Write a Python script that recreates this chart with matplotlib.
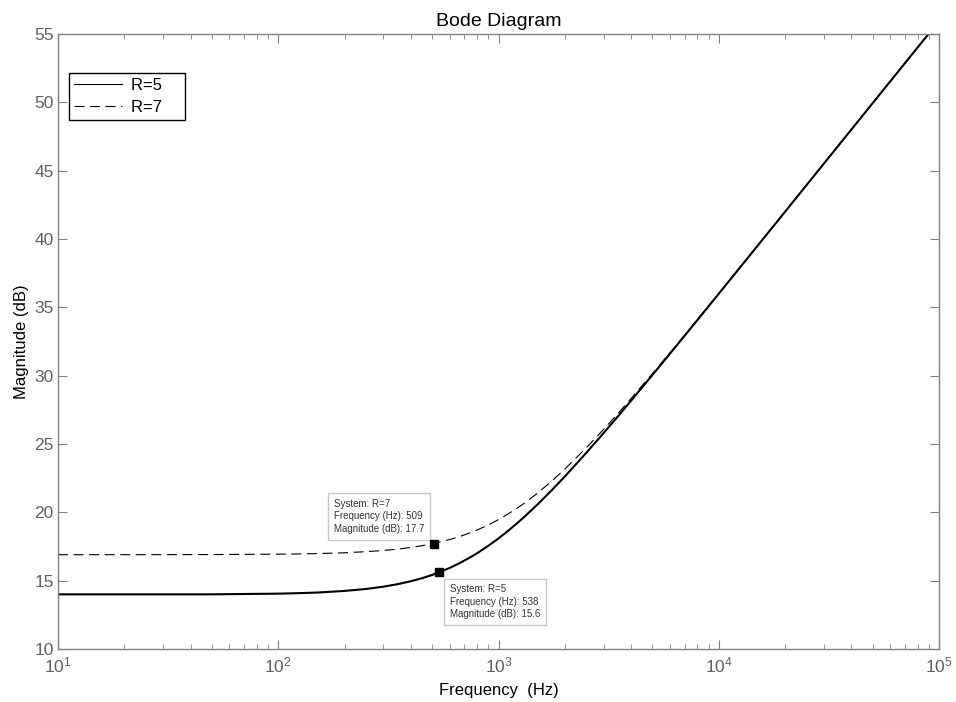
import matplotlib
matplotlib.use("Agg")
import matplotlib.pyplot as plt
from matplotlib.ticker import LogLocator, MultipleLocator, NullFormatter

# --- data ---------------------------------------------------
freq = [10, 20, 50, 100, 120, 150, 200, 250, 300, 350, 400, 450, 500, 550, 600,
        650, 700, 750, 800, 900, 1000, 1100, 1200, 1300, 1500, 1750, 2000, 2500,
        3000, 3500, 4000, 5000, 6000, 7000, 8000, 10000, 15000, 20000, 30000,
        50000, 89000]
mag_r5 = [14.00, 14.00, 14.00, 14.05, 14.08, 14.13, 14.25, 14.39, 14.56, 14.75,
          14.96, 15.18, 15.42, 15.68, 15.93, 16.20, 16.47, 16.74, 17.01, 17.56,
          18.09, 18.62, 19.13, 19.62, 20.56, 21.64, 22.62, 24.34, 25.80, 27.06,
          28.17, 30.05, 31.60, 32.92, 34.07, 35.99, 39.50, 41.99, 45.51, 49.94,
          54.94]
mag_r7 = [16.90, 16.90, 16.91, 16.94, 16.95, 16.98, 17.04, 17.12, 17.21, 17.31,
          17.43, 17.56, 17.70, 17.85, 18.01, 18.17, 18.35, 18.53, 18.71, 19.08,
          19.47, 19.86, 20.25, 20.63, 21.39, 22.30, 23.16, 24.71, 26.07, 27.26,
          28.33, 30.15, 31.67, 32.97, 34.11, 36.02, 39.51, 42.00, 45.51, 49.95,
          54.94]

# datatips
tip_r7 = (509, 17.7)
tip_r5 = (538, 15.6)

plt.rcParams["font.family"] = ["Liberation Sans", "DejaVu Sans"]
plt.rcParams["mathtext.default"] = "regular"

grey = "#808080"
tick_col = "#606060"

fig = plt.figure(figsize=(9.56, 7.02), dpi=100)
ax = fig.add_axes([0.0607, 0.0755, 0.9215, 0.8761])

ax.plot(freq, mag_r5, color="black", linewidth=1.5, label="R=5    ")
ax.plot(freq, mag_r7, color="black", linewidth=0.8, dashes=(9, 5), label="R=7    ")

ax.set_xscale("log")
ax.set_xlim(10, 1e5)
ax.set_ylim(10, 55)
ax.yaxis.set_major_locator(MultipleLocator(5))
ax.xaxis.set_major_locator(LogLocator(base=10, numticks=10))
ax.xaxis.set_minor_locator(LogLocator(base=10, subs=range(2, 10), numticks=20))
ax.xaxis.set_minor_formatter(NullFormatter())

for s in ax.spines.values():
    s.set_color(grey)
    s.set_linewidth(1.0)
ax.tick_params(which="both", direction="in", top=True, right=True,
               color=grey, labelcolor=tick_col, labelsize=12.5)
ax.tick_params(which="major", length=6.5, pad=3)
ax.tick_params(axis="x", which="major", pad=5)
ax.tick_params(which="minor", length=3.5)

ax.set_title("Bode Diagram", fontsize=14, pad=6)
ax.set_xlabel("Frequency  (Hz)", fontsize=12, labelpad=5)
ax.set_ylabel("Magnitude (dB)", fontsize=12, labelpad=4)

leg = ax.legend(loc="upper left", bbox_to_anchor=(0.0125, 0.937), fontsize=12,
                fancybox=False, framealpha=1, edgecolor="black",
                handlelength=2.9, handletextpad=0.5, borderpad=0.3,
                labelspacing=0.45, borderaxespad=0)
leg.get_frame().set_linewidth(1.0)
for h in leg.get_lines():
    h.set_linewidth(0.8)

# datatip markers and boxes
ax.plot(*tip_r7, marker="s", color="black", markersize=6, zorder=5)
ax.plot(*tip_r5, marker="s", color="black", markersize=6, zorder=5)

box = dict(boxstyle="square,pad=0.6", facecolor="white", edgecolor="#c8c8c8",
           linewidth=1.0)
ax.annotate(f"System: R=7\nFrequency (Hz): {tip_r7[0]}\nMagnitude (dB): {tip_r7[1]}",
            xy=tip_r7, xytext=(-10, 10), textcoords="offset pixels",
            ha="right", va="bottom", multialignment="left", fontsize=7,
            color="#333333", linespacing=1.3, bbox=box)
ax.annotate(f"System: R=5\nFrequency (Hz): {tip_r5[0]}\nMagnitude (dB): {tip_r5[1]}",
            xy=tip_r5, xytext=(11, -12), textcoords="offset pixels",
            ha="left", va="top", multialignment="left", fontsize=7,
            color="#333333", linespacing=1.3, bbox=box)

plt.savefig("out.png", dpi=100)
